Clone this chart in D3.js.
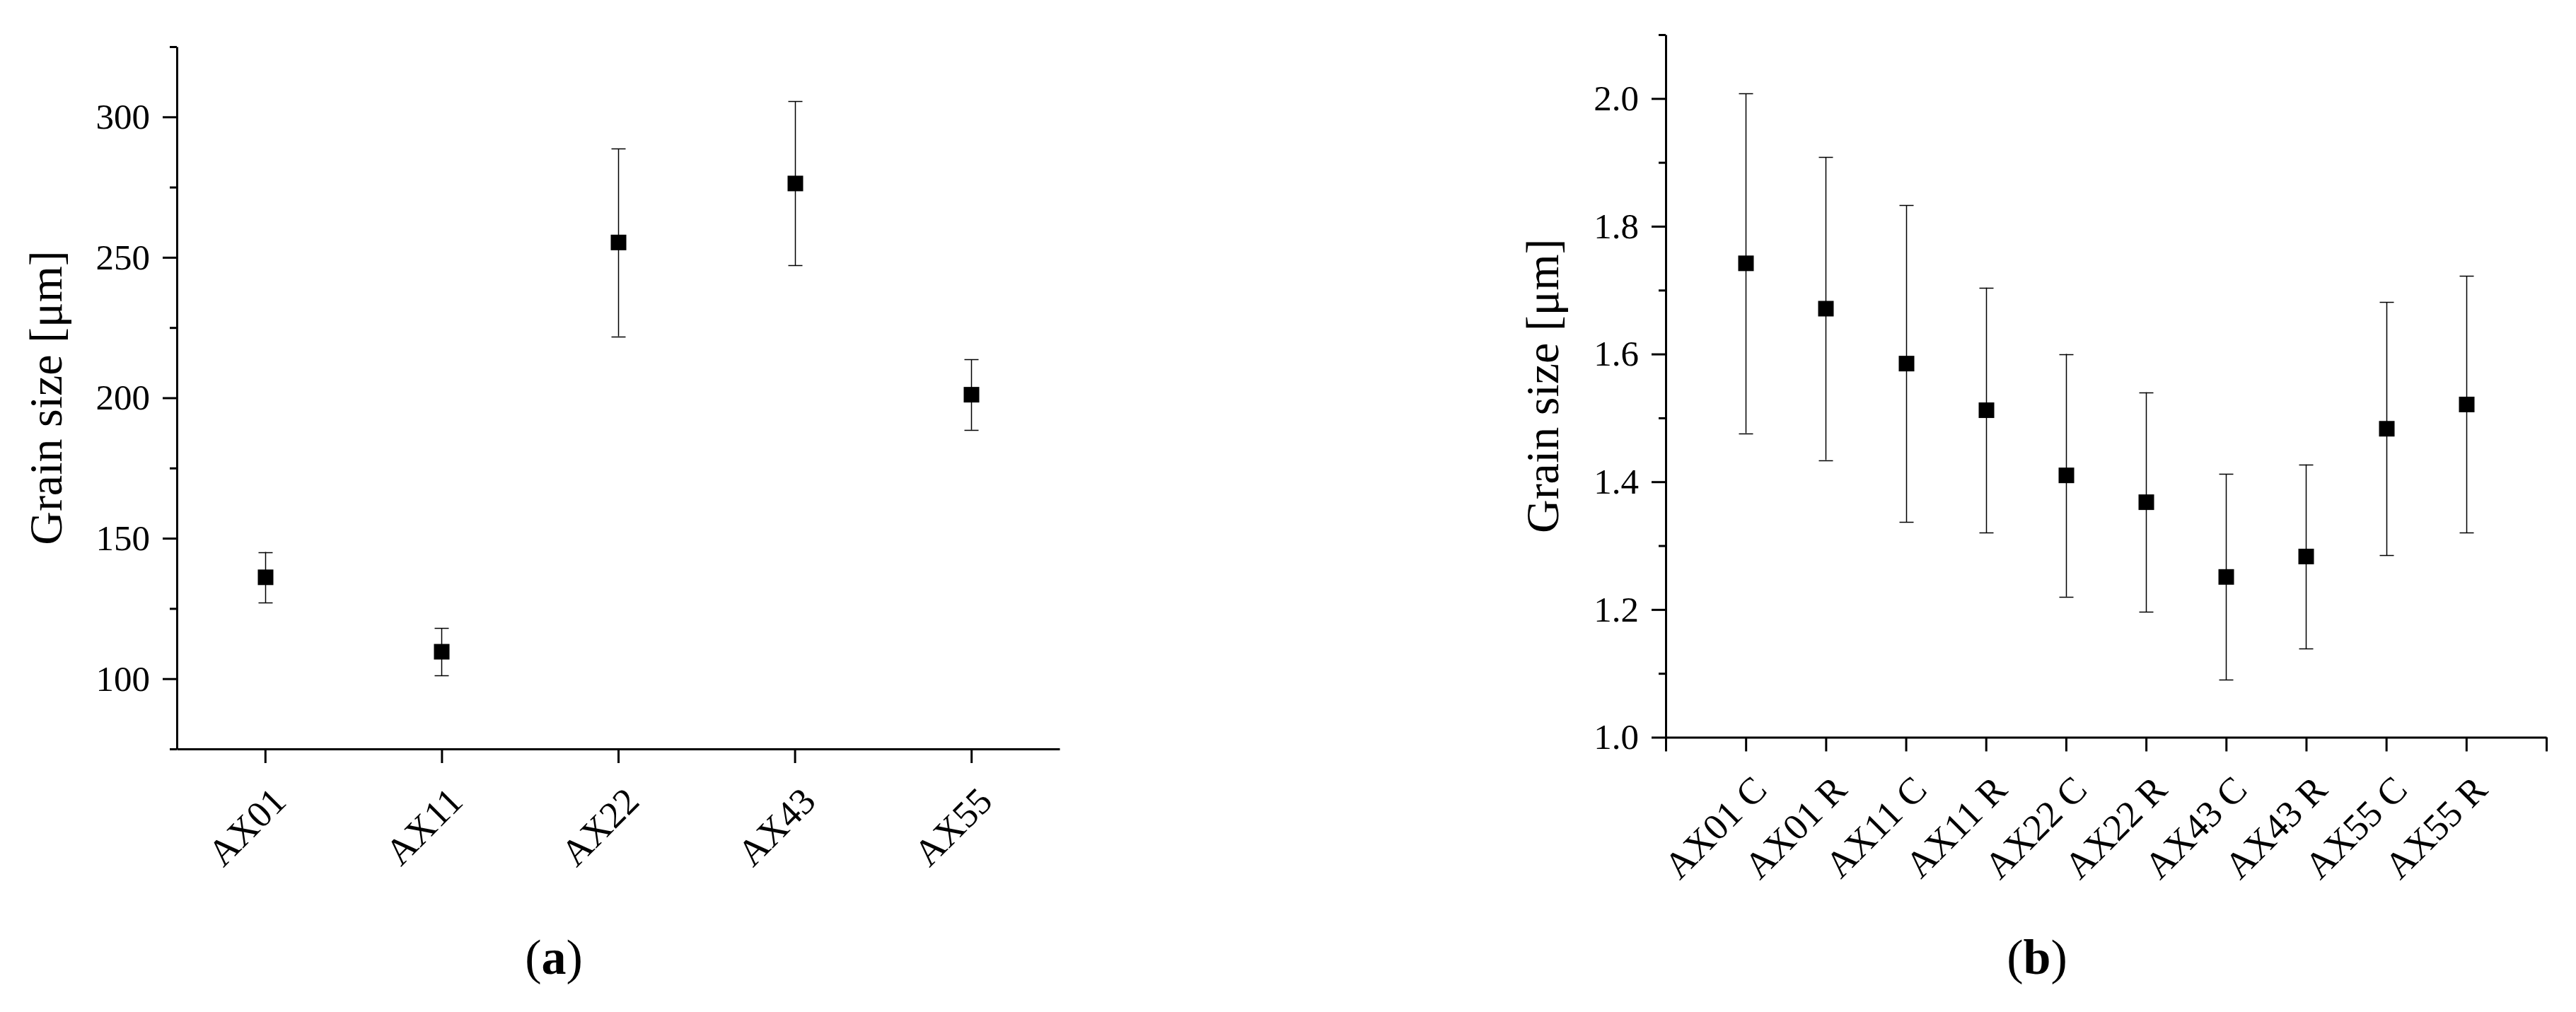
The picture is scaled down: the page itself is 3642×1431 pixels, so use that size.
<!DOCTYPE html>
<html>
<head>
<meta charset="utf-8">
<script src="https://cdn.jsdelivr.net/npm/d3@7"></script>
<style>
  html, body { margin: 0; padding: 0; background: #fff; }
  svg { display: block; }
</style>
</head>
<body>
<svg id="chart" width="3642" height="1431"></svg>
<script>
// ---------- data ----------
const catsA = ["AX01", "AX11", "AX22", "AX43", "AX55"];
const meanA = [136.1, 109.6, 255.3, 276.3, 201.1];
const errA  = [9.0, 8.4, 33.4, 29.2, 12.5];
const yMajorA = [100, 150, 200, 250, 300];
const yMinorA = [75, 125, 175, 225, 275, 325];

const catsB = ["AX01 C", "AX01 R", "AX11 C", "AX11 R", "AX22 C", "AX22 R", "AX43 C", "AX43 R", "AX55 C", "AX55 R"];
const meanB = [1.742, 1.671, 1.585, 1.512, 1.410, 1.368, 1.251, 1.283, 1.483, 1.521];
const errB  = [0.266, 0.237, 0.248, 0.192, 0.190, 0.172, 0.161, 0.144, 0.198, 0.201];
const yMajorB = [1.0, 1.2, 1.4, 1.6, 1.8, 2.0];
const yMinorB = [1.1, 1.3, 1.5, 1.7, 1.9, 2.1];

const yTitle = "Grain size [μm]";

// ---------- layout ----------
const FONT = "'Liberation Serif', 'DejaVu Serif', serif";
const svg = d3.select("#chart");

function panel(opts) {
  const g = svg.append("g");
  const x = d3.scaleLinear().domain(opts.xDomain).range([opts.left, opts.right]);
  const y = d3.scaleLinear().domain(opts.yDomain).range([opts.bottom, opts.top]);
  const px = v => Math.round(x(v)) + 0.5;   // pixel-aligned centre for thin lines

  // minor y ticks
  const yMin = g.append("g").attr("transform", `translate(${opts.left},0)`)
    .call(d3.axisLeft(y).tickValues(opts.yMinor).tickSize(10).tickFormat(""));
  yMin.select(".domain").remove();
  // major y ticks
  const yMaj = g.append("g").attr("transform", `translate(${opts.left},0)`)
    .call(d3.axisLeft(y).tickValues(opts.yMajor).tickSize(20).tickSizeOuter(0).tickPadding(18).tickFormat(opts.yFormat));
  // x axis
  const xAx = g.append("g").attr("transform", `translate(0,${opts.bottom})`)
    .call(d3.axisBottom(x).tickValues(opts.xTicks).tickSize(20).tickSizeOuter(0)
      .tickFormat(i => opts.cats[i - 1] || ""));

  [yMin, yMaj, xAx].forEach(a => {
    a.attr("font-family", FONT).attr("font-size", 51);
    a.selectAll("path, line").attr("stroke", "#000").attr("stroke-width", 3);
    a.selectAll("text").attr("fill", "#000");
  });
  xAx.attr("font-size", 53);
  xAx.selectAll(".tick text")
    .attr("y", null).attr("dy", null)
    .attr("text-anchor", "end")
    .attr("transform", "translate(32,77) rotate(-45)");

  // y title
  g.append("text")
    .attr("transform", `translate(${opts.titleX},${(opts.top + opts.bottom) / 2}) rotate(-90)`)
    .attr("text-anchor", "middle")
    .attr("font-family", FONT).attr("font-size", 66).attr("fill", "#000")
    .text(yTitle);

  // error bars
  const idx = d3.range(opts.cats.length);
  const capW = 10;
  const eb = g.append("g").attr("stroke", "#000").attr("stroke-width", 1.5);
  eb.selectAll("line.v").data(idx).join("line")
    .attr("x1", i => px(i + 1)).attr("x2", i => px(i + 1))
    .attr("y1", i => y(opts.mean[i] - opts.err[i])).attr("y2", i => y(opts.mean[i] + opts.err[i]));
  eb.selectAll("line.t").data(idx).join("line")
    .attr("x1", i => px(i + 1) - capW).attr("x2", i => px(i + 1) + capW)
    .attr("y1", i => Math.round(y(opts.mean[i] + opts.err[i])) + 0.5)
    .attr("y2", i => Math.round(y(opts.mean[i] + opts.err[i])) + 0.5);
  eb.selectAll("line.b").data(idx).join("line")
    .attr("x1", i => px(i + 1) - capW).attr("x2", i => px(i + 1) + capW)
    .attr("y1", i => Math.round(y(opts.mean[i] - opts.err[i])) + 0.5)
    .attr("y2", i => Math.round(y(opts.mean[i] - opts.err[i])) + 0.5);

  // markers
  const s = 22;
  g.append("g").selectAll("rect").data(idx).join("rect")
    .attr("x", i => px(i + 1) - s / 2).attr("y", i => y(opts.mean[i]) - s / 2)
    .attr("width", s).attr("height", s).attr("fill", "#000");

  // caption
  const cap = g.append("text")
    .attr("x", opts.capX).attr("y", 1377)
    .attr("text-anchor", "middle")
    .attr("font-family", FONT).attr("font-size", 70).attr("fill", "#000");
  cap.append("tspan").text("(");
  cap.append("tspan").attr("font-weight", "bold").text(opts.capLetter);
  cap.append("tspan").text(")");
}

panel({
  cats: catsA, mean: meanA, err: errA,
  xDomain: [0.5, 5.5], xTicks: d3.range(1, catsA.length + 1),
  yDomain: [75, 325], yMajor: yMajorA, yMinor: yMinorA, yFormat: d3.format("d"),
  left: 250, right: 1498, top: 66, bottom: 1059,
  titleX: 87, capX: 783, capLetter: "a"
});

panel({
  cats: catsB, mean: meanB, err: errB,
  xDomain: [0, 11], xTicks: d3.range(0, catsB.length + 2),
  yDomain: [1.0, 2.1], yMajor: yMajorB, yMinor: yMinorB, yFormat: d3.format(".1f"),
  left: 2355, right: 3600, top: 49, bottom: 1042.5,
  titleX: 2203, capX: 2880, capLetter: "b"
});
</script>
</body>
</html>
